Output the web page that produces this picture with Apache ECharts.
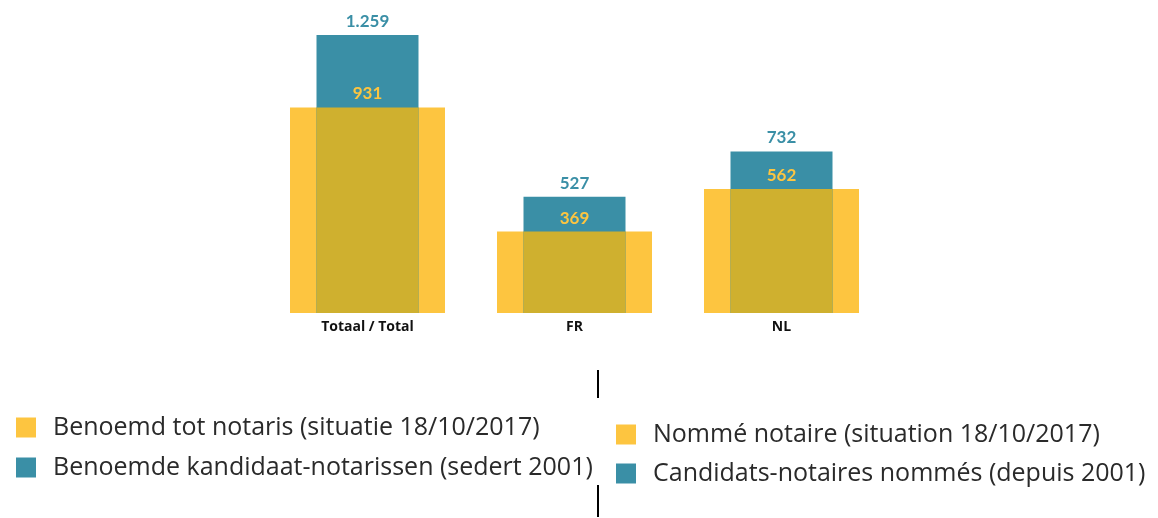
<!DOCTYPE html>
<html>
<head>
<meta charset="utf-8">
<script src="https://cdn.jsdelivr.net/npm/echarts@6/dist/echarts.min.js"></script>
<style>
html,body{margin:0;padding:0;background:#fff;}
#chart{width:1158px;height:518px;}
</style>
</head>
<body>
<div id="chart"></div>
<script>
var categories=['Totaal / Total','FR','NL'];
var notarissen=[931,369,562];          // Benoemd tot notaris
var kandidaten=[1259,527,732];         // Benoemde kandidaat-notarissen
var nlNames=['Benoemd tot notaris (situatie 18/10/2017)','Benoemde kandidaat-notarissen (sedert 2001)'];
var frNames=['Nommé notaire (situation 18/10/2017)','Candidats-notaires nommés (depuis 2001)'];

var cYellow='#fdc540';
var cTeal='#3a8fa6';
var cOlive='#cfb02f';

var fmt=function(v){
	// Belgian style thousand separator
	return String(v).replace(/\B(?=(\d{3})+(?!\d))/g,'.');
};

var chartObj=echarts.init(document.getElementById('chart'));
var legendText={color:'#2a2a2a',fontSize:25,lineHeight:24,fontFamily:'Open Sans',padding:[0,0,0,12]};
var option={
	animation:false,
	grid:{left:264,right:273,top:4,bottom:205},
	legend:[
		{
			data:nlNames,
			orient:'vertical',
			left:16,top:415,padding:0,
			icon:'rect',itemWidth:20,itemHeight:20,itemGap:15,
			selectedMode:false,
			textStyle:legendText
		},
		{
			data:frNames,
			orient:'vertical',
			left:616,top:422,padding:0,
			icon:'rect',itemWidth:20,itemHeight:20,itemGap:14,
			selectedMode:false,
			textStyle:legendText
		}
	],
	xAxis:[
		{
			type:'category',
			data:categories,
			axisLine:{show:false},
			axisTick:{show:false},
			axisLabel:{color:'#111',fontWeight:'bold',fontSize:14,fontFamily:'Open Sans',margin:7}
		},
		{
			type:'category',
			data:categories,
			show:false
		}
	],
	yAxis:{
		type:'value',
		min:0,max:1400,
		show:false
	},
	series:[
		{
			name:nlNames[0],
			type:'bar',
			xAxisIndex:0,
			barWidth:155,
			itemStyle:{color:cYellow},
			data:notarissen
		},
		{
			name:nlNames[1],
			type:'bar',
			xAxisIndex:1,
			barWidth:102,
			barGap:'-100%',
			itemStyle:{color:cTeal},
			label:{
				show:true,position:'top',distance:5,
				color:cTeal,fontWeight:'bold',fontSize:17,fontFamily:'Lato',
				formatter:function(p){return fmt(p.value);}
			},
			data:kandidaten
		},
		{
			name:'overlap',
			type:'bar',
			xAxisIndex:1,
			barWidth:102,
			barGap:'-100%',
			itemStyle:{color:cOlive},
			label:{
				show:true,position:'top',distance:5,
				color:cYellow,fontWeight:'bold',fontSize:17,fontFamily:'Lato',
				formatter:function(p){return fmt(p.value);}
			},
			data:notarissen
		},
		{name:frNames[0],type:'scatter',itemStyle:{color:cYellow,opacity:1},data:[]},
		{name:frNames[1],type:'scatter',itemStyle:{color:cTeal,opacity:1},data:[]}
	],
	graphic:[
		{type:'line',shape:{x1:598,y1:370,x2:598,y2:398},style:{stroke:'#000',lineWidth:2}},
		{type:'line',shape:{x1:598,y1:485,x2:598,y2:517},style:{stroke:'#000',lineWidth:2}}
	]
};
chartObj.setOption(option);
</script>
</body>
</html>
